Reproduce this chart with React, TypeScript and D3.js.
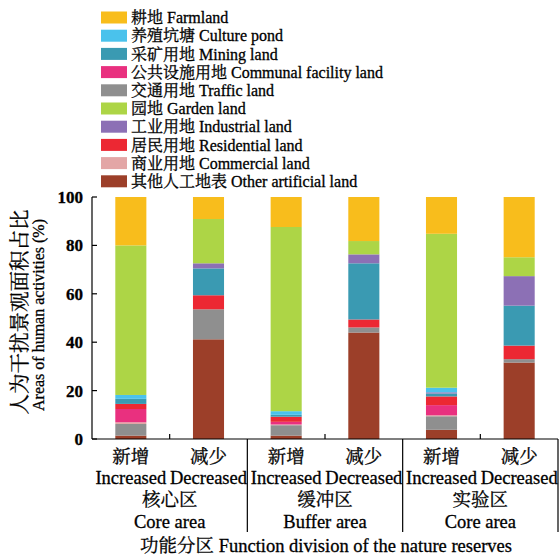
import React from "react";
import * as d3 from "d3";

const categoryZh = ["新增", "减少", "新增", "减少", "新增", "减少"];
const categoryEn = ["Increased", "Decreased", "Increased", "Decreased", "Increased", "Decreased"];
const groupZh = ["核心区", "缓冲区", "实验区"];
const groupEn = ["Core area", "Buffer area", "Core area"];
const yTicks = [0, 20, 40, 60, 80, 100];

// stacking order bottom -> top
const otherArtificial = [1.4, 41.2, 1.4, 44.0, 3.8, 31.6];
const traffic = [4.8, 12.4, 4.3, 2.1, 5.6, 1.4];
const commercial = [0.7, 0, 0.3, 0, 0.4, 0];
const communal = [5.5, 0, 1.1, 0, 4.2, 0];
const residential = [2.1, 5.8, 2.1, 3.3, 3.6, 5.6];
const mining = [2.1, 11.1, 0.8, 23.2, 1.2, 16.5];
const industrial = [0, 2.1, 0, 3.7, 0.5, 12.2];
const culturePond = [1.6, 0, 1.5, 0, 1.9, 0];
const garden = [61.8, 18.3, 76.1, 5.5, 63.6, 7.8];
const farmland = [20.0, 9.1, 12.4, 18.2, 15.2, 24.9];

const seriesKeys = ["other", "traffic", "commercial", "communal", "residential", "mining", "industrial", "pond", "garden", "farmland"];
const seriesValues: Record<string, number[]> = {
  other: otherArtificial,
  traffic,
  commercial,
  communal,
  residential,
  mining,
  industrial,
  pond: culturePond,
  garden,
  farmland,
};
const seriesColors: Record<string, string> = {
  farmland: "#F8BD1C",
  pond: "#4AC2EC",
  mining: "#3A9AB2",
  communal: "#E9307F",
  traffic: "#8F8F8F",
  garden: "#ADD546",
  industrial: "#8C70B5",
  residential: "#EC2833",
  commercial: "#E3A6A6",
  other: "#9C3F29",
};
const legendKeys = ["farmland", "pond", "mining", "communal", "traffic", "garden", "industrial", "residential", "commercial", "other"];
const legendLabels = [
  "耕地 Farmland",
  "养殖坑塘 Culture pond",
  "采矿用地 Mining land",
  "公共设施用地 Communal facility land",
  "交通用地 Traffic land",
  "园地 Garden land",
  "工业用地 Industrial land",
  "居民用地 Residential land",
  "商业用地 Commercial land",
  "其他人工地表 Other artificial land",
];

const FONT = '"Liberation Serif", "Noto Serif CJK SC", "Noto Sans CJK SC", serif';

export default function App() {
  const W = 560, H = 556;
  const left = 92, right = 558, top = 197, bottom = 439;
  const idx = d3.range(categoryZh.length).map(String);
  const x = d3.scaleBand<string>().domain(idx).range([left, right]).paddingInner(0.6).paddingOuter(0.3);
  const y = d3.scaleLinear().domain([0, 100]).range([bottom, top]);
  const table = idx.map((_, i) => {
    const row: Record<string, number> = {};
    seriesKeys.forEach((k) => (row[k] = seriesValues[k][i]));
    return row;
  });
  const stacked = d3.stack<Record<string, number>>().keys(seriesKeys)(table);
  const step = x.step();
  const boundaries = d3.range(1, categoryZh.length + 1).map((i) => left + i * step);

  return (
    <svg width={W} height={H} style={{ position: "absolute", left: 0, top: 0, background: "#fff" }} fontFamily={FONT}>
      {/* bars */}
      {stacked.map((s) => (
        <g key={s.key} fill={seriesColors[s.key]}>
          {s.map((d, i) =>
            d[1] - d[0] > 0 ? (
              <rect key={i} x={x(String(i))} width={x.bandwidth()} y={y(d[1])} height={y(d[0]) - y(d[1])} />
            ) : null
          )}
        </g>
      ))}
      {/* y axis */}
      <line x1={left} x2={left} y1={y(100)} y2={bottom} stroke="#000" strokeWidth={1.2} />
      <g stroke="#000" strokeWidth={0.3}>
        {yTicks.map((t) => (
          <g key={t}>
            <line x1={left} x2={left + 5} y1={y(t)} y2={y(t)} stroke="#000" strokeWidth={1.2} />
            <text x={left - 9} y={y(t)} dy="0.35em" textAnchor="end" fontSize={17} fontWeight="bold">
              {t}
            </text>
          </g>
        ))}
      </g>
      {/* x axis */}
      <line x1={left} x2={right} y1={bottom} y2={bottom} stroke="#000" strokeWidth={1.2} />
      {boundaries.map((bx, i) =>
        (i + 1) % 2 === 1 ? (
          <line key={i} x1={bx} x2={bx} y1={bottom} y2={bottom - 5} stroke="#000" strokeWidth={1.2} />
        ) : (
          <line key={i} x1={bx} x2={bx} y1={bottom} y2={532} stroke="#000" strokeWidth={1.2} />
        )
      )}
      <g stroke="#000" strokeWidth={0.3}>
        {idx.map((k, i) => {
          const cx = (x(k) as number) + x.bandwidth() / 2;
          return (
            <g key={k}>
              <text x={cx} y={463} textAnchor="middle" fontSize={18.5}>{categoryZh[i]}</text>
              <text x={cx} y={484} textAnchor="middle" fontSize={18.5}>{categoryEn[i]}</text>
            </g>
          );
        })}
        {groupZh.map((g, gi) => {
          const gx = left + step * (gi * 2 + 1);
          return (
            <g key={gi}>
              <text x={gx} y={506} textAnchor="middle" fontSize={18.5}>{g}</text>
              <text x={gx} y={528} textAnchor="middle" fontSize={18.5}>{groupEn[gi]}</text>
            </g>
          );
        })}
        <text x={(left + right) / 2 + 1} y={552} textAnchor="middle" fontSize={18.5}>
          功能分区 Function division of the nature reserves
        </text>
        {/* y title */}
        <text transform={`translate(20,${(top + bottom) / 2 - 6}) rotate(-90)`} textAnchor="middle" dominantBaseline="central" fontSize={20.5}>
          人为干扰景观面积占比
        </text>
        <text transform={`translate(38,${(top + bottom) / 2 - 3}) rotate(-90)`} textAnchor="middle" dominantBaseline="central" fontSize={16}>
          Areas of human activities (%)
        </text>
        {/* legend */}
        {legendKeys.map((k, i) => {
          const ly = 17.5 + i * 18.2;
          return (
            <g key={k}>
              <rect x={101} y={ly - 6} width={26} height={12} fill={seriesColors[k]} stroke="none" />
              <text x={131} y={ly} dy="0.36em" fontSize={16}>{legendLabels[i]}</text>
            </g>
          );
        })}
      </g>
    </svg>
  );
}
